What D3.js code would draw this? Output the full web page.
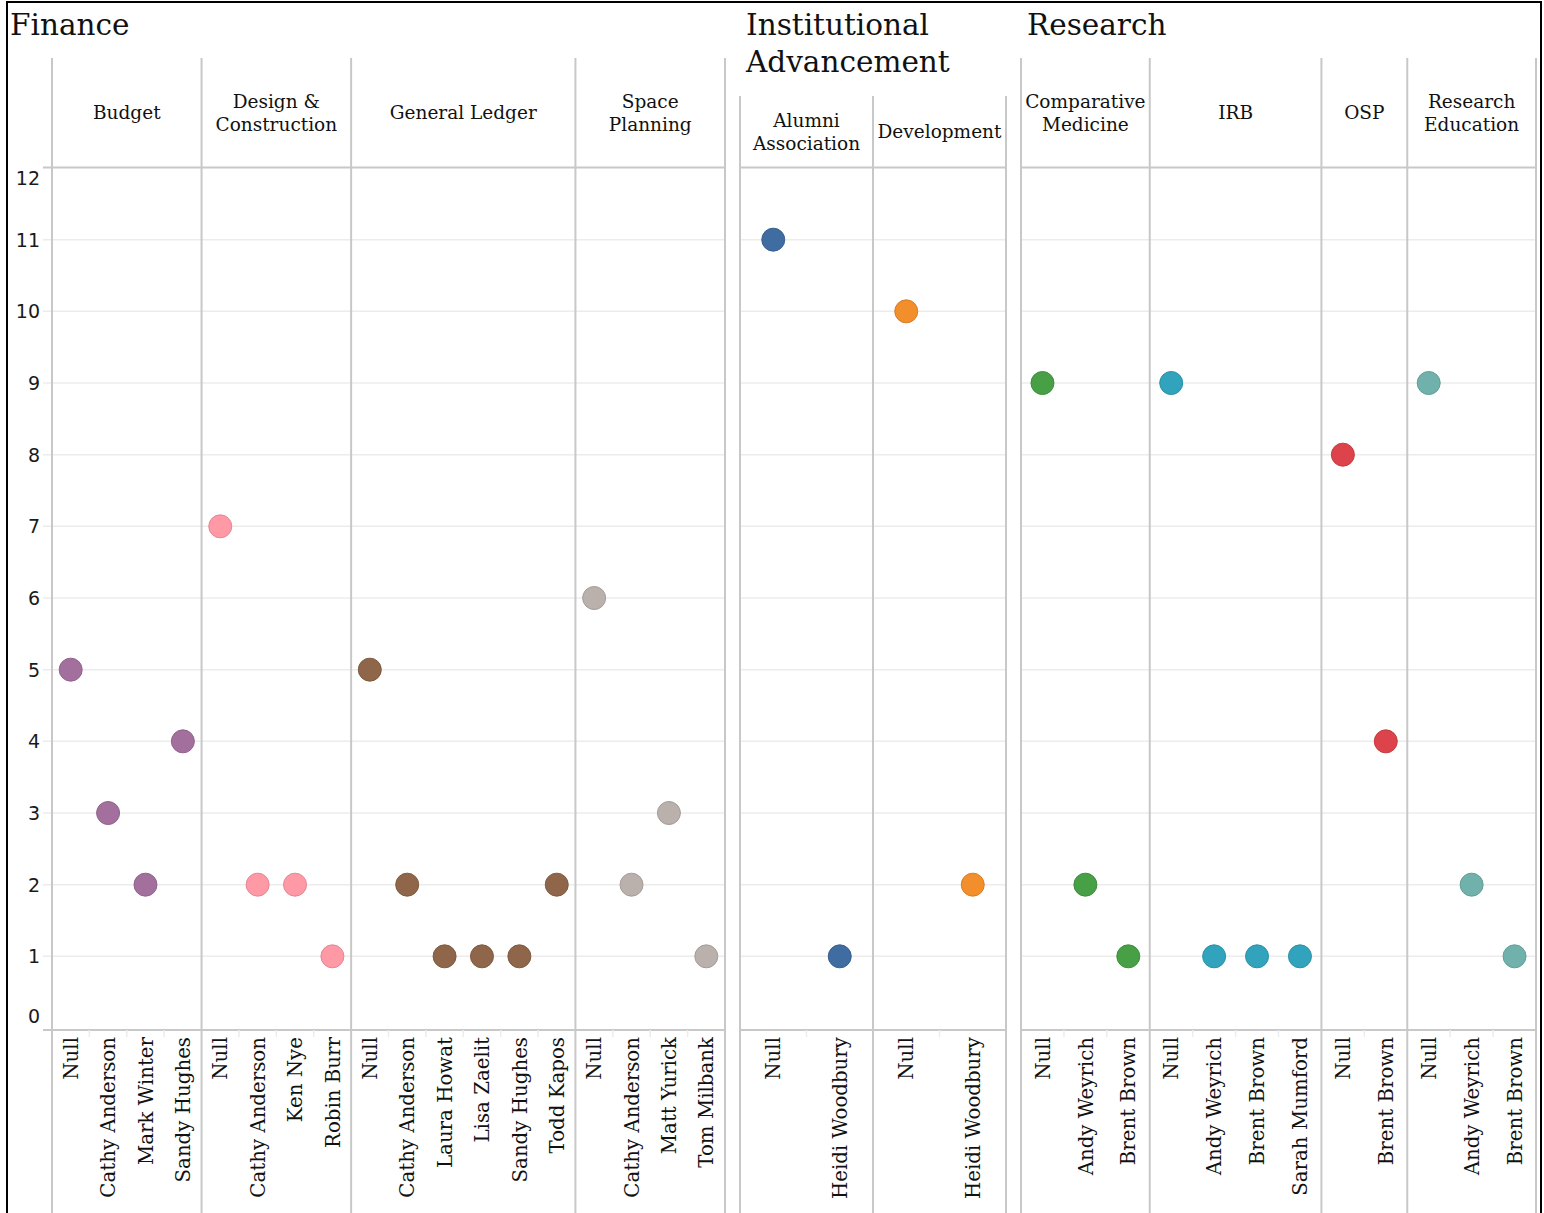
<!DOCTYPE html>
<html><head><meta charset="utf-8">
<script src="https://cdn.jsdelivr.net/npm/d3@7"></script>
<style>body{margin:0;background:#fff}svg{display:block}</style>
</head><body><svg id="c" width="1544" height="1213"></svg>
<script>
// ---------- DATA ----------
const panelTitles = [["Finance"], ["Institutional", "Advancement"], ["Research"]];

const financeDepartments = [["Budget"], ["Design &", "Construction"], ["General Ledger"], ["Space", "Planning"]];
const financeStaff = [
  ["Null", "Cathy Anderson", "Mark Winter", "Sandy Hughes"],
  ["Null", "Cathy Anderson", "Ken Nye", "Robin Burr"],
  ["Null", "Cathy Anderson", "Laura Howat", "Lisa Zaelit", "Sandy Hughes", "Todd Kapos"],
  ["Null", "Cathy Anderson", "Matt Yurick", "Tom Milbank"]
];
const financeValues = [
  [5, 3, 2, 4],
  [7, 2, 2, 1],
  [5, 2, 1, 1, 1, 2],
  [6, 2, 3, 1]
];
const financeColors = ["#a3709e", "#ff99a5", "#8f6649", "#bab1ad"];

const advancementDepartments = [["Alumni", "Association"], ["Development"]];
const advancementStaff = [
  ["Null", "Heidi Woodbury"],
  ["Null", "Heidi Woodbury"]
];
const advancementValues = [
  [11, 1],
  [10, 2]
];
const advancementColors = ["#3f6ca1", "#f28e2b"];

const researchDepartments = [["Comparative", "Medicine"], ["IRB"], ["OSP"], ["Research", "Education"]];
const researchStaff = [
  ["Null", "Andy Weyrich", "Brent Brown"],
  ["Null", "Andy Weyrich", "Brent Brown", "Sarah Mumford"],
  ["Null", "Brent Brown"],
  ["Null", "Andy Weyrich", "Brent Brown"]
];
const researchValues = [
  [9, 2, 1],
  [9, 1, 1, 1],
  [8, 4],
  [9, 2, 1]
];
const researchColors = ["#47a046", "#31a3bc", "#dc434a", "#70b2ab"];

const yTicks = [0, 1, 2, 3, 4, 5, 6, 7, 8, 9, 10, 11, 12];

// ---------- LAYOUT ----------
const svg = d3.select("#c");
const serif = "DejaVu Serif, serif";
const sans = "DejaVu Sans, sans-serif";
const y = d3.scaleLinear().domain([0, 12]).range([1028, 168]);
const headerBottom = 167.5, axisY = 1030, bottom = 1213;
const sepColor = "#c8c8c8", gridColor = "#ececec";

const panels = [
  { title: panelTitles[0], depts: financeDepartments, staff: financeStaff, values: financeValues, colors: financeColors,
    left: 52, right: 725, headerTop: 58, titleX: 10, gridLeft: 43, yAxis: true },
  { title: panelTitles[1], depts: advancementDepartments, staff: advancementStaff, values: advancementValues, colors: advancementColors,
    left: 740, right: 1006, headerTop: 96, titleX: 746, gridLeft: 740, yAxis: false },
  { title: panelTitles[2], depts: researchDepartments, staff: researchStaff, values: researchValues, colors: researchColors,
    left: 1021, right: 1536, headerTop: 58, titleX: 1027, gridLeft: 1021, yAxis: false }
];

panels.forEach(p => {
  const g = svg.append("g");
  const keys = [];
  p.staff.forEach((list, di) => list.forEach(s => keys.push(di + "|" + s)));
  const x = d3.scaleBand().domain(keys).range([p.left, p.right]).padding(0);
  const bw = x.bandwidth();

  // gridlines
  g.selectAll("line.grid").data(yTicks.filter(t => t > 0 && t < 12)).join("line")
    .attr("x1", p.gridLeft).attr("x2", p.right)
    .attr("y1", d => y(d)).attr("y2", d => y(d))
    .attr("stroke", gridColor).attr("stroke-width", 1.5);

  // header bottom & axis lines
  [headerBottom, axisY].forEach(yy => g.append("line")
    .attr("x1", p.gridLeft).attr("x2", p.right).attr("y1", yy).attr("y2", yy)
    .attr("stroke", sepColor).attr("stroke-width", 2));

  // item ticks below axis
  keys.forEach((k, i) => {
    if (i === 0) return;
    const di = +k.split("|")[0];
    const prevDi = +keys[i - 1].split("|")[0];
    if (di !== prevDi) return;
    g.append("line").attr("x1", x(k)).attr("x2", x(k)).attr("y1", axisY).attr("y2", axisY + 7)
      .attr("stroke", "#ececec").attr("stroke-width", 1.5);
  });

  // pane separators
  const bounds = p.staff.map((list, di) => x(di + "|" + list[0]));
  bounds.push(p.right);
  g.selectAll("line.sep").data(bounds).join("line")
    .attr("x1", d => d).attr("x2", d => d)
    .attr("y1", p.headerTop).attr("y2", bottom)
    .attr("stroke", sepColor).attr("stroke-width", 2);

  // title
  const t = g.append("text").attr("x", p.titleX).attr("y", 35)
    .attr("font-family", serif).attr("font-size", 29.5).attr("fill", "#111");
  p.title.forEach((line, i) => t.append("tspan").attr("x", p.titleX).attr("dy", i ? 37 : 0).text(line));

  // department headers
  p.depts.forEach((lines, di) => {
    const cx = (bounds[di] + bounds[di + 1]) / 2;
    const cy = (p.headerTop + headerBottom) / 2;
    const txt = g.append("text").attr("text-anchor", "middle")
      .attr("font-family", serif).attr("font-size", 18.5).attr("fill", "#111");
    lines.forEach((line, i) => txt.append("tspan").attr("x", cx)
      .attr("y", cy + (i - (lines.length - 1) / 2) * 23.5).attr("dy", "0.36em").text(line));
  });

  // x labels
  keys.forEach(k => {
    const cx = x(k) + bw / 2;
    g.append("text").attr("transform", `translate(${cx},1037) rotate(-90)`)
      .attr("text-anchor", "end").attr("dy", "0.36em")
      .attr("font-family", serif).attr("font-size", 19.8).attr("fill", "#111")
      .text(k.split("|")[1]);
  });

  // points
  const pts = [];
  p.staff.forEach((list, di) => list.forEach((s, si) => pts.push({ k: di + "|" + s, v: p.values[di][si], c: p.colors[di] })));
  g.selectAll("circle").data(pts).join("circle")
    .attr("cx", d => x(d.k) + bw / 2).attr("cy", d => y(d.v)).attr("r", 11.5)
    .attr("fill", d => d.c).attr("stroke", d => d3.color(d.c).darker(0.35)).attr("stroke-width", 1);

  // y axis
  if (p.yAxis) {
    g.selectAll("text.yt").data(yTicks).join("text")
      .attr("x", 40).attr("y", d => Math.min(Math.max(y(d), 178), 1016)).attr("dy", "0.36em")
      .attr("text-anchor", "end").attr("font-family", sans).attr("font-size", 19).attr("fill", "#1a1a1a")
      .text(d => d);
  }
});

// outer border
svg.append("path").attr("d", "M7,1213 V2 H1541 V1213").attr("fill", "none").attr("stroke", "#000").attr("stroke-width", 2);
</script></body></html>
